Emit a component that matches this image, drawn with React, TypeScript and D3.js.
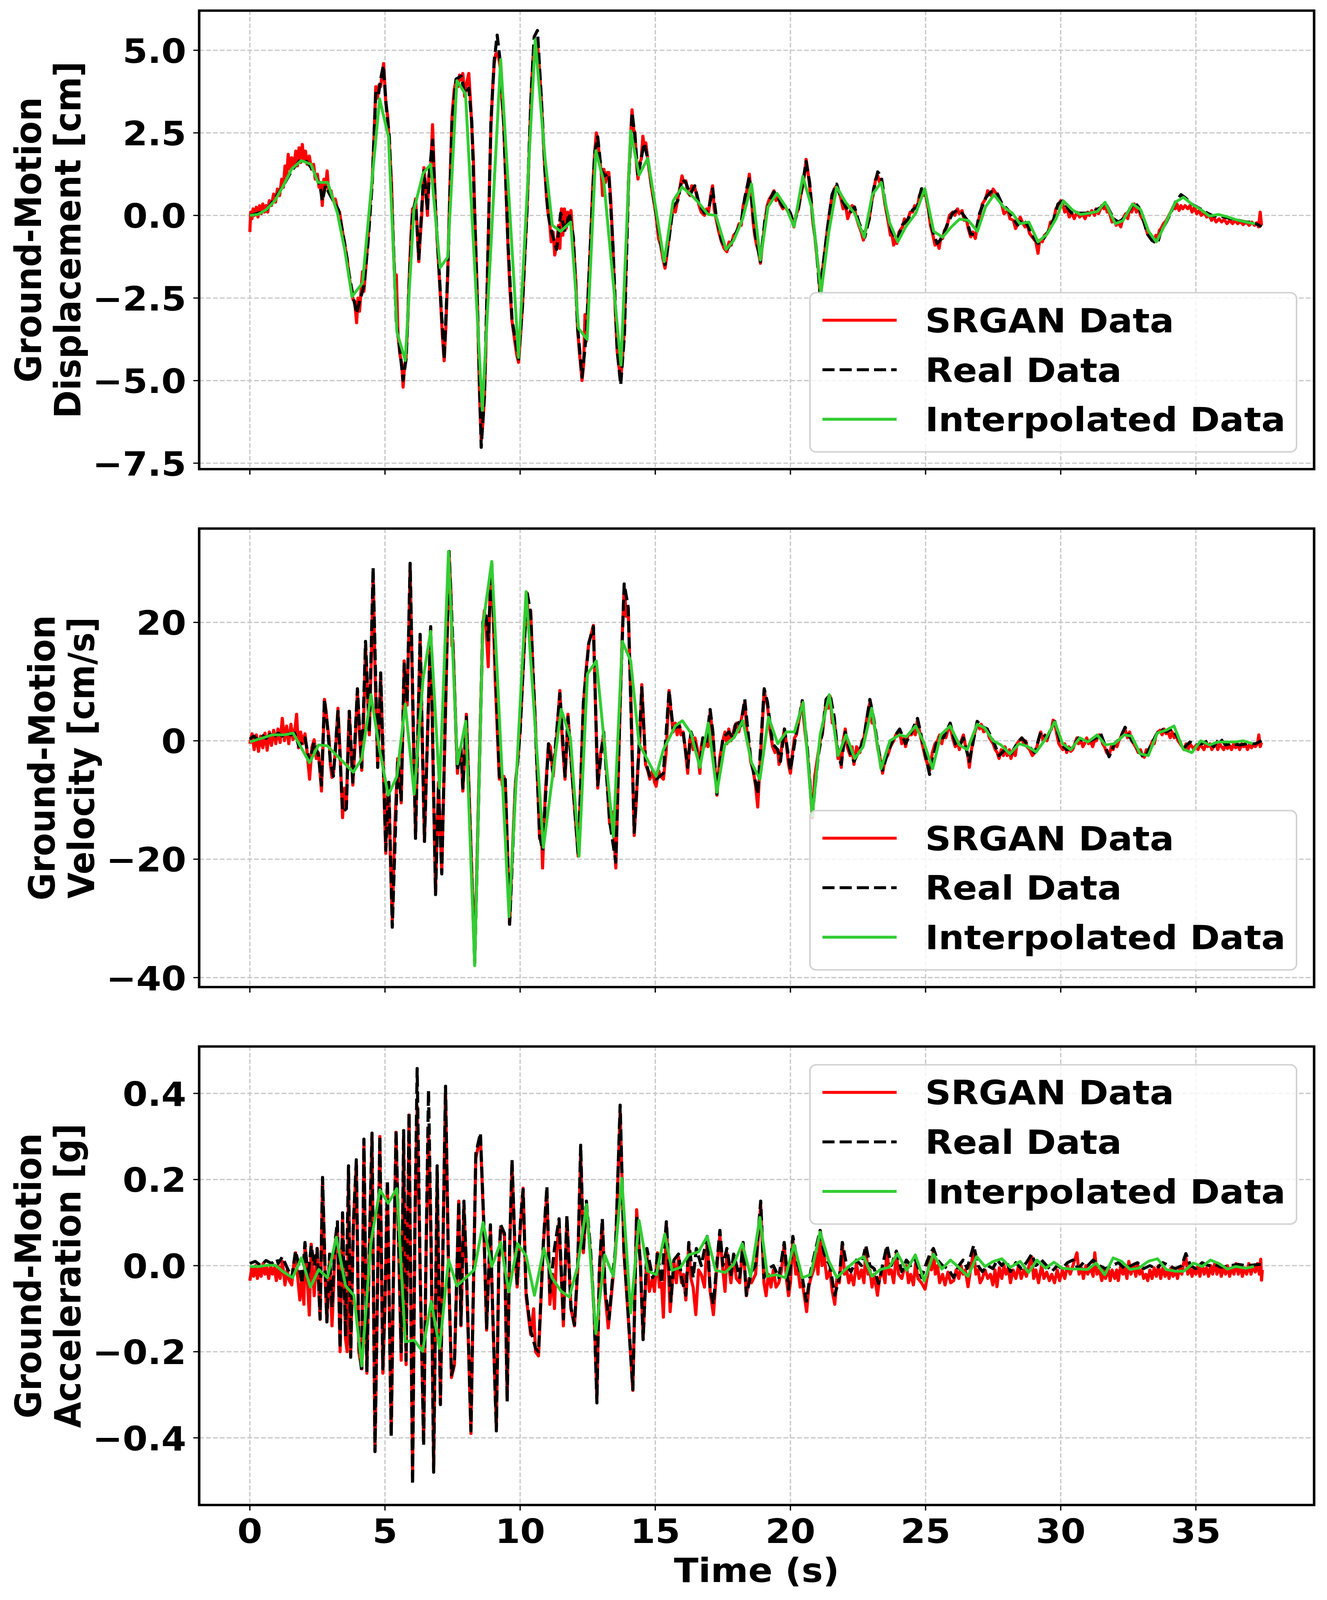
import React from 'react';
import * as d3 from 'd3';

type Pt = [number, number];

// ---- axis ticks ----
const timeTicks = [0, 5, 10, 15, 20, 25, 30, 35];
const dispTicks = [-7.5, -5, -2.5, 0, 2.5, 5];
const velTicks = [-40, -20, 0, 20];
const accTicks = [-0.4, -0.2, 0, 0.2, 0.4];

const legendLabels = ['SRGAN Data', 'Real Data', 'Interpolated Data'];

// ---- displacement [cm] ----
const dispReal: Pt[] = [[0,0],[0.3,0.07],[0.6,0.15],[0.92,0.5],[1.24,0.9],[1.55,1.36],[1.87,1.68],[2.1,1.64],[2.34,1.36],[2.49,1.09],[2.6,0.9],[2.68,0.44],[2.8,0.9],[2.96,0.63],[3.12,0.4],[3.28,0.17],[3.51,-0.85],[3.67,-1.77],[3.79,-2.32],[3.95,-2.97],[4.06,-2.6],[4.22,-2.14],[4.37,-0.85],[4.53,1.0],[4.66,3.76],[4.76,3.67],[4.84,4.13],[4.94,4.54],[5.03,3.48],[5.16,2.38],[5.31,-0.85],[5.42,-3.24],[5.55,-4.07],[5.67,-4.99],[5.78,-4.35],[5.91,-1.77],[6.02,0.07],[6.13,0.44],[6.25,-1.31],[6.33,-0.2],[6.44,1.36],[6.57,0.17],[6.65,1.36],[6.76,2.28],[6.88,0.07],[7.04,-2.23],[7.19,-4.35],[7.32,-1.77],[7.48,2.84],[7.63,4.13],[7.82,4.22],[7.95,3.67],[8.1,3.85],[8.21,2.84],[8.32,0.07],[8.45,-3.6],[8.56,-7.02],[8.68,-5.45],[8.79,-1.77],[8.92,2.84],[9.04,4.68],[9.15,5.46],[9.26,4.68],[9.39,2.84],[9.55,-0.85],[9.7,-3.15],[9.94,-4.35],[10.09,-2.69],[10.25,0.07],[10.41,3.76],[10.52,5.41],[10.64,5.6],[10.77,3.76],[10.92,1.36],[11.03,0.07],[11.19,-0.57],[11.35,-1.03],[11.5,0.07],[11.66,-0.5],[11.82,0.07],[11.97,-0.66],[12.13,-3.42],[12.29,-4.9],[12.45,-3.6],[12.6,-0.85],[12.76,1.92],[12.87,2.38],[13.0,1.36],[13.13,1.2],[13.28,1.27],[13.43,-0.85],[13.59,-4.07],[13.72,-5.13],[13.86,-3.6],[14.01,0.99],[14.14,3.11],[14.25,2.38],[14.36,1.18],[14.48,1.73],[14.59,2.19],[14.72,1.73],[14.87,0.9],[15.03,0.07],[15.2,-0.85],[15.36,-1.49],[15.5,-0.76],[15.66,0.26],[15.83,0.44],[15.99,1.09],[16.13,1.0],[16.29,0.63],[16.46,0.9],[16.62,0.35],[16.82,0.07],[16.97,0.15],[17.12,0.81],[17.25,0.0],[17.45,-0.76],[17.65,-1.03],[17.81,-0.85],[18.01,-0.48],[18.18,-0.2],[18.31,0.53],[18.48,1.18],[18.68,-0.48],[18.89,-1.4],[19.06,-0.11],[19.22,0.44],[19.39,0.72],[19.55,0.53],[19.72,0.26],[19.88,0.26],[20.0,0.07],[20.13,-0.29],[20.3,0.26],[20.46,1.0],[20.58,1.64],[20.71,1.0],[20.83,-0.11],[20.96,-1.03],[21.09,-2.32],[21.21,-1.49],[21.37,-0.39],[21.54,0.63],[21.71,0.95],[21.87,0.53],[22.04,0.26],[22.2,0.07],[22.37,0.26],[22.53,-0.2],[22.75,-0.66],[22.91,-0.11],[23.08,0.81],[23.23,1.32],[23.36,1.18],[23.53,0.26],[23.74,-0.48],[23.94,-0.76],[24.14,-0.29],[24.35,-0.11],[24.52,0.17],[24.69,0.26],[24.85,0.81],[24.97,0.81],[25.1,0.26],[25.26,-0.48],[25.43,-0.85],[25.63,-0.66],[25.79,-0.29],[26.0,0.07],[26.18,0.17],[26.35,0.07],[26.51,-0.11],[26.67,-0.57],[26.84,-0.57],[27.0,0.07],[27.22,0.53],[27.42,0.72],[27.62,0.72],[27.83,0.35],[28.05,0.17],[28.25,-0.11],[28.41,-0.29],[28.58,-0.11],[28.77,-0.29],[28.99,-0.66],[29.16,-0.85],[29.32,-0.76],[29.54,-0.48],[29.74,-0.11],[29.9,0.35],[30.07,0.44],[30.23,0.26],[30.4,0.07],[30.6,0.07],[30.81,0.07],[31.06,0.07],[31.31,0.17],[31.52,0.26],[31.64,0.4],[31.8,0.15],[31.97,-0.11],[32.14,-0.2],[32.3,-0.11],[32.55,0.17],[32.72,0.4],[32.88,0.26],[33.05,-0.11],[33.21,-0.57],[33.38,-0.76],[33.58,-0.85],[33.71,-0.48],[33.91,-0.2],[34.07,0.07],[34.24,0.4],[34.45,0.63],[34.62,0.53],[34.83,0.35],[35.03,0.26],[35.23,0.17],[35.43,0.07],[35.66,-0.02],[35.86,-0.02],[36.1,-0.06],[36.36,-0.11],[36.6,-0.15],[36.87,-0.2],[37.1,-0.2],[37.32,-0.29],[37.43,-0.34]];

const dispSrgan: Pt[] = [[0,-0.5],[0.03,0.1],[0.08,-0.1],[0.12,0.2],[0.18,0.0],[0.24,0.25],[0.3,-0.05],[0.36,0.3],[0.42,0.05],[0.48,0.35],[0.54,0.1],[0.6,0.3],[0.66,0.1],[0.72,0.45],[0.8,0.3],[0.88,0.65],[0.95,0.4],[1.02,0.8],[1.1,0.6],[1.18,1.1],[1.24,0.85],[1.3,1.5],[1.36,1.2],[1.42,1.85],[1.48,1.4],[1.55,1.75],[1.62,1.45],[1.7,1.95],[1.76,1.5],[1.82,2.05],[1.88,1.6],[1.94,2.15],[2.0,1.7],[2.06,1.95],[2.12,1.55],[2.2,1.8],[2.28,1.4],[2.36,1.55],[2.42,1.1],[2.5,1.25],[2.56,0.85],[2.62,1.0],[2.68,0.3],[2.74,1.1],[2.8,0.85],[2.86,1.35],[2.92,0.7],[3.0,0.75],[3.08,0.45],[3.16,0.5],[3.24,0.2],[3.32,0.1],[3.42,-0.45],[3.51,-0.9],[3.6,-1.3],[3.67,-1.85],[3.75,-2.2],[3.82,-2.55],[3.88,-2.6],[3.95,-3.25],[4.0,-2.5],[4.06,-2.9],[4.12,-2.2],[4.17,-1.7],[4.22,-2.3],[4.3,-1.5],[4.37,-0.7],[4.45,0.3],[4.53,1.1],[4.6,2.5],[4.66,3.9],[4.72,3.55],[4.78,3.95],[4.84,3.9],[4.9,4.3],[4.95,4.6],[5.03,3.4],[5.1,3.0],[5.16,2.2],[5.24,1.0],[5.31,-1.0],[5.38,-2.2],[5.42,-1.8],[5.48,-3.6],[5.55,-4.2],[5.62,-4.5],[5.67,-5.2],[5.72,-4.6],[5.78,-4.3],[5.85,-3.0],[5.91,-1.6],[5.96,-0.6],[6.02,0.2],[6.08,-0.1],[6.13,0.5],[6.18,-0.2],[6.25,-1.4],[6.3,-0.7],[6.36,0.0],[6.44,1.45],[6.5,0.9],[6.57,0.0],[6.62,1.2],[6.7,1.6],[6.76,2.75],[6.82,1.3],[6.88,0.0],[6.95,-1.0],[7.04,-2.3],[7.12,-3.6],[7.19,-4.4],[7.25,-3.4],[7.32,-1.8],[7.4,0.8],[7.48,3.0],[7.56,3.8],[7.63,4.1],[7.7,3.9],[7.76,4.25],[7.82,4.1],[7.88,4.3],[7.95,3.6],[8.02,4.0],[8.1,4.3],[8.16,3.5],[8.21,2.7],[8.27,1.7],[8.32,0.0],[8.4,-2.0],[8.45,-3.7],[8.5,-5.5],[8.56,-6.8],[8.62,-6.3],[8.68,-5.5],[8.74,-3.8],[8.79,-1.9],[8.86,0.7],[8.92,2.7],[8.98,3.8],[9.04,4.6],[9.1,4.9],[9.15,4.9],[9.2,4.8],[9.26,4.5],[9.32,3.6],[9.39,2.8],[9.47,1.0],[9.55,-0.9],[9.62,-2.2],[9.7,-3.2],[9.8,-3.8],[9.87,-4.2],[9.94,-4.45],[10.0,-3.8],[10.09,-2.7],[10.17,-1.2],[10.25,0.1],[10.33,1.8],[10.41,3.7],[10.47,4.7],[10.52,5.1],[10.58,4.9],[10.64,5.2],[10.7,4.6],[10.77,3.7],[10.85,2.4],[10.92,1.3],[10.98,0.5],[11.03,0.1],[11.1,-0.3],[11.15,-0.8],[11.22,-0.5],[11.28,-1.2],[11.35,-0.9],[11.42,-0.3],[11.47,-1.0],[11.53,0.2],[11.58,-0.6],[11.64,0.2],[11.7,-0.4],[11.76,0.1],[11.82,-0.2],[11.88,0.15],[11.94,-0.5],[12.0,-1.2],[12.06,-2.0],[12.13,-3.5],[12.2,-4.2],[12.29,-5.0],[12.35,-4.5],[12.4,-3.0],[12.45,-3.8],[12.52,-2.3],[12.6,-0.9],[12.68,0.8],[12.76,1.9],[12.82,2.5],[12.87,2.3],[12.93,1.8],[13.0,1.3],[13.05,0.6],[13.1,1.4],[13.16,1.0],[13.22,1.3],[13.28,1.3],[13.35,0.5],[13.43,-0.9],[13.5,-2.5],[13.59,-4.1],[13.66,-4.6],[13.72,-4.95],[13.78,-4.4],[13.86,-3.4],[13.93,-1.0],[14.01,1.0],[14.08,2.3],[14.14,3.2],[14.2,2.6],[14.25,2.5],[14.3,1.6],[14.36,1.1],[14.42,1.6],[14.48,1.7],[14.54,2.4],[14.59,2.1],[14.65,2.2],[14.72,1.7],[14.8,1.2],[14.87,0.8],[14.95,0.4],[15.03,0.0],[15.12,-0.7],[15.2,-0.9],[15.28,-1.3],[15.36,-1.6],[15.43,-1.2],[15.5,-0.7],[15.58,-0.2],[15.66,0.3],[15.74,0.1],[15.83,0.5],[15.9,0.8],[15.99,1.2],[16.05,1.0],[16.13,1.05],[16.2,0.7],[16.29,0.6],[16.35,0.9],[16.46,0.85],[16.53,0.6],[16.62,0.3],[16.7,0.1],[16.82,0.0],[16.9,0.2],[16.97,0.1],[17.05,0.6],[17.12,0.9],[17.18,0.2],[17.25,-0.1],[17.35,-0.5],[17.45,-0.8],[17.55,-1.0],[17.65,-1.1],[17.73,-0.8],[17.81,-0.9],[17.9,-0.6],[18.01,-0.5],[18.1,-0.25],[18.18,-0.3],[18.25,0.3],[18.31,0.45],[18.4,0.8],[18.48,1.25],[18.55,0.6],[18.62,-0.2],[18.68,-0.6],[18.75,-0.9],[18.82,-1.1],[18.89,-1.45],[18.96,-0.9],[19.06,-0.2],[19.14,0.3],[19.22,0.5],[19.3,0.6],[19.39,0.75],[19.47,0.45],[19.55,0.6],[19.62,0.35],[19.72,0.2],[19.8,0.3],[19.88,0.15],[20.0,0.0],[20.07,-0.2],[20.13,-0.35],[20.2,0.0],[20.3,0.2],[20.38,0.6],[20.46,0.9],[20.53,1.3],[20.58,1.7],[20.65,1.3],[20.71,0.9],[20.77,0.4],[20.83,-0.2],[20.9,-0.6],[20.96,-1.1],[21.03,-1.6],[21.09,-2.3],[21.15,-1.8],[21.21,-1.5],[21.3,-0.9],[21.37,-0.4],[21.45,0.1],[21.54,0.6],[21.62,0.8],[21.71,0.9],[21.8,0.7],[21.87,0.5],[21.95,0.2],[22.04,0.3],[22.12,-0.1],[22.2,0.1],[22.28,0.3],[22.37,0.2],[22.45,-0.1],[22.53,-0.3],[22.62,-0.5],[22.7,-0.75],[22.75,-0.55],[22.83,-0.3],[22.91,-0.15],[23.0,0.4],[23.08,0.7],[23.15,1.1],[23.23,1.2],[23.3,1.0],[23.36,1.1],[23.45,0.6],[23.53,0.2],[23.62,-0.2],[23.7,-0.6],[23.74,-0.5],[23.82,-0.9],[23.9,-0.7],[23.94,-0.85],[24.02,-0.5],[24.14,-0.35],[24.22,-0.1],[24.3,-0.3],[24.35,-0.1],[24.43,0.1],[24.52,0.1],[24.6,0.3],[24.69,0.2],[24.77,0.6],[24.85,0.75],[24.92,0.6],[24.97,0.8],[25.05,0.4],[25.1,0.2],[25.18,-0.3],[25.26,-0.55],[25.35,-0.9],[25.43,-0.8],[25.5,-1.0],[25.56,-0.7],[25.63,-0.7],[25.7,-0.45],[25.79,-0.35],[25.88,0.0],[26.0,0.1],[26.08,0.0],[26.18,0.2],[26.25,0.05],[26.35,0.15],[26.43,-0.15],[26.51,-0.1],[26.58,-0.4],[26.67,-0.65],[26.75,-0.5],[26.84,-0.7],[26.92,-0.3],[27.0,0.0],[27.1,0.35],[27.22,0.5],[27.3,0.75],[27.42,0.6],[27.5,0.8],[27.62,0.65],[27.7,0.5],[27.83,0.3],[27.9,0.05],[28.05,0.15],[28.12,-0.1],[28.25,-0.15],[28.33,-0.4],[28.41,-0.25],[28.5,-0.05],[28.58,-0.2],[28.68,-0.35],[28.77,-0.3],[28.85,-0.55],[28.99,-0.7],[29.08,-0.8],[29.16,-1.15],[29.22,-0.75],[29.32,-0.8],[29.4,-0.6],[29.54,-0.5],[29.62,-0.2],[29.74,-0.15],[29.82,0.2],[29.9,0.3],[30.0,0.45],[30.07,0.35],[30.15,0.1],[30.23,0.2],[30.32,-0.05],[30.4,0.1],[30.5,-0.1],[30.6,0.1],[30.7,-0.05],[30.81,0.05],[30.9,-0.1],[31.0,0.1],[31.06,0.0],[31.15,0.15],[31.25,0.0],[31.31,0.2],[31.4,0.05],[31.52,0.3],[31.6,0.2],[31.64,0.35],[31.72,0.1],[31.8,0.1],[31.9,-0.2],[31.97,-0.1],[32.05,-0.3],[32.14,-0.2],[32.22,-0.35],[32.3,-0.1],[32.4,0.05],[32.48,-0.1],[32.55,0.2],[32.63,0.1],[32.72,0.35],[32.8,0.1],[32.88,0.25],[32.95,0.0],[33.05,-0.15],[33.12,-0.3],[33.21,-0.55],[33.3,-0.6],[33.38,-0.7],[33.46,-0.8],[33.52,-0.6],[33.58,-0.75],[33.65,-0.45],[33.71,-0.4],[33.8,-0.25],[33.91,-0.15],[34.0,0.0],[34.07,0.1],[34.15,0.25],[34.24,0.2],[34.3,0.35],[34.38,0.15],[34.45,0.3],[34.52,0.2],[34.6,0.3],[34.7,0.2],[34.78,0.3],[34.86,0.1],[34.95,0.25],[35.03,0.05],[35.12,0.15],[35.2,0.0],[35.3,0.1],[35.4,-0.05],[35.5,0.0],[35.58,-0.15],[35.66,-0.05],[35.75,-0.2],[35.86,-0.1],[35.95,-0.2],[36.05,-0.12],[36.15,-0.25],[36.25,-0.15],[36.36,-0.25],[36.45,-0.15],[36.55,-0.25],[36.65,-0.18],[36.75,-0.28],[36.87,-0.2],[36.97,-0.3],[37.07,-0.2],[37.17,-0.3],[37.25,-0.22],[37.32,-0.35],[37.38,0.1],[37.43,-0.3]];

const dispInterp: Pt[] = [[0,0],[0.3,0.03],[0.6,0.17],[0.92,0.44],[1.24,0.9],[1.55,1.41],[1.9,1.66],[2.26,1.55],[2.52,1.0],[2.88,1.0],[3.24,0.07],[3.51,-1.03],[3.78,-2.46],[4.17,-2.04],[4.8,3.53],[5.13,2.38],[5.44,-3.52],[5.75,-4.39],[6.07,0.17],[6.41,1.27],[6.69,1.55],[7.04,-1.58],[7.32,-1.26],[7.66,4.08],[7.98,3.67],[8.6,-5.9],[9.28,4.72],[9.94,-4.3],[10.56,5.32],[10.92,1.73],[11.19,-0.3],[11.5,-0.48],[11.87,-0.2],[12.16,-3.42],[12.48,-3.75],[12.8,1.96],[13.1,1.0],[13.73,-4.53],[14.09,2.56],[14.4,1.22],[14.72,1.73],[15.0,0.3],[15.33,-1.4],[15.66,0.44],[15.99,0.86],[16.32,0.63],[16.62,0.37],[16.95,0.03],[17.24,0.0],[17.62,-1.03],[17.9,-0.76],[18.23,-0.11],[18.56,0.95],[18.89,-1.35],[19.17,0.26],[19.5,0.67],[19.83,0.26],[20.13,-0.34],[20.46,1.18],[20.8,0.2],[21.13,-2.37],[21.42,-0.5],[21.71,0.86],[22.04,0.4],[22.37,0.07],[22.73,-0.66],[23.03,0.63],[23.36,1.0],[23.66,-0.2],[23.97,-0.8],[24.27,-0.34],[24.64,0.07],[24.97,0.81],[25.3,-0.48],[25.63,-0.66],[25.95,-0.35],[26.26,-0.11],[26.58,-0.15],[26.92,-0.48],[27.22,0.26],[27.53,0.63],[27.88,0.26],[28.21,0.07],[28.49,-0.25],[28.82,-0.2],[29.16,-0.8],[29.49,-0.57],[29.82,-0.11],[30.1,0.44],[30.43,0.17],[30.73,0.03],[31.06,0.07],[31.36,0.12],[31.64,0.4],[32.02,-0.25],[32.3,-0.16],[32.66,0.35],[32.96,0.17],[33.25,-0.48],[33.54,-0.8],[33.9,-0.2],[34.24,0.4],[34.54,0.55],[34.87,0.33],[35.2,0.17],[35.5,-0.02],[35.83,0.03],[36.16,-0.04],[36.49,-0.13],[36.85,-0.2],[37.19,-0.25]];

// ---- velocity [cm/s] ----
const velReal: Pt[] = [[0,0.3],[0.15,0.8],[0.3,0.2],[0.45,1.0],[0.6,0.4],[0.75,1.1],[0.9,0.6],[1.05,1.3],[1.2,0.8],[1.35,1.4],[1.5,1.0],[1.66,1.3],[1.82,-1.0],[2.04,0.5],[2.2,-3.5],[2.38,-0.2],[2.54,-2.5],[2.65,-7.5],[2.76,7.0],[2.87,2.5],[2.98,-3.5],[3.09,-6.0],[3.26,5.0],[3.43,-12.0],[3.57,-11.5],[3.68,5.0],[3.81,-7.0],[3.98,8.8],[4.14,-4.5],[4.28,16.8],[4.42,1.5],[4.56,29.3],[4.73,-4.5],[4.84,11.5],[5.03,-18.5],[5.14,-7.0],[5.27,-31.5],[5.47,-3.5],[5.6,-10.0],[5.71,13.0],[5.82,6.5],[5.93,30.0],[6.13,-16.5],[6.3,18.0],[6.46,-17.0],[6.69,19.3],[6.87,-26.0],[6.98,-7.5],[7.1,-22.5],[7.37,32.0],[7.51,16.5],[7.68,-5.0],[7.81,-1.5],[7.88,-8.0],[8.01,4.0],[8.32,-37.5],[8.62,20.0],[8.73,21.5],[8.82,17.0],[8.95,30.0],[9.23,-6.0],[9.34,-7.0],[9.45,-6.5],[9.61,-31.0],[9.83,-7.5],[10.0,1.5],[10.25,25.3],[10.39,21.5],[10.55,4.0],[10.72,-16.0],[10.83,-18.5],[11.05,-0.5],[11.22,-5.5],[11.47,8.0],[11.66,-6.0],[11.77,4.0],[11.93,-6.0],[12.15,-19.5],[12.34,6.5],[12.54,16.5],[12.71,19.3],[12.87,-7.5],[13.09,1.5],[13.31,-13.5],[13.54,-20.5],[13.7,6.5],[13.85,26.5],[14.0,22.5],[14.22,-15.5],[14.36,-4.5],[14.5,9.0],[14.64,-3.5],[14.8,-6.0],[15.03,-6.5],[15.3,-5.5],[15.51,8.5],[15.66,2.0],[15.88,2.5],[16.03,1.5],[16.2,-4.5],[16.32,1.5],[16.47,-0.5],[16.65,-4.5],[16.76,0.5],[16.88,-0.5],[17.03,5.3],[17.13,1.5],[17.28,-9.0],[17.5,0.5],[17.72,1.5],[17.87,0.5],[18.01,3.5],[18.16,2.5],[18.31,7.0],[18.53,-3.0],[18.71,-7.0],[18.79,-9.0],[19.03,8.8],[19.15,6.5],[19.34,-0.5],[19.53,-1.5],[19.63,-3.5],[19.78,2.0],[20.0,-5.0],[20.22,1.5],[20.44,6.8],[20.62,-1.0],[20.81,-12.5],[21.03,-2.5],[21.18,1.5],[21.32,7.0],[21.47,7.8],[21.62,4.0],[21.76,-2.5],[21.88,-4.0],[22.03,1.5],[22.21,-2.0],[22.35,-3.5],[22.57,-1.5],[22.72,0.5],[22.94,7.0],[23.09,3.5],[23.24,-1.0],[23.41,-5.0],[23.6,-2.0],[23.82,0.5],[24.04,2.0],[24.26,-0.5],[24.48,1.5],[24.7,3.8],[25.0,-2.5],[25.15,-5.7],[25.44,0.5],[25.66,0.5],[25.91,3.0],[26.1,-0.5],[26.25,-1.0],[26.4,0.5],[26.62,-3.5],[26.91,3.3],[27.06,2.5],[27.28,2.0],[27.5,0.0],[27.72,-2.5],[27.94,-1.5],[28.16,-2.2],[28.38,-0.5],[28.56,0.5],[28.75,-0.5],[29.04,-2.0],[29.26,1.5],[29.49,0.5],[29.78,3.3],[30.0,-0.5],[30.22,-1.5],[30.44,-1.2],[30.66,0.5],[30.88,-0.2],[31.1,0.0],[31.32,0.5],[31.47,1.3],[31.62,-0.5],[31.79,-2.7],[31.99,-0.5],[32.21,0.5],[32.38,2.3],[32.57,0.5],[32.79,-1.0],[33.09,-3.0],[33.31,-1.0],[33.53,1.0],[33.68,2.1],[33.9,1.5],[34.12,2.0],[34.34,0.5],[34.56,-1.2],[34.78,-0.2],[35.0,-0.7],[35.22,-0.5],[35.44,0.0],[35.66,-1.0],[35.88,0.5],[36.1,-0.7],[36.32,-0.5],[36.62,-0.7],[36.91,-0.5],[37.2,-0.5],[37.43,0.0]];

const velSrgan: Pt[] = [[0,-0.5],[0.08,1.2],[0.16,-1.5],[0.24,1.0],[0.32,-1.8],[0.4,0.8],[0.48,-1.2],[0.56,1.3],[0.64,-1.6],[0.72,1.5],[0.8,-0.8],[0.88,1.8],[0.96,-0.5],[1.04,2.0],[1.12,-0.3],[1.2,3.8],[1.28,0.0],[1.36,2.5],[1.44,-0.5],[1.52,2.8],[1.6,0.2],[1.68,2.4],[1.73,4.5],[1.8,-1.2],[1.88,1.5],[1.96,-0.5],[2.04,1.2],[2.12,-2.0],[2.21,-6.5],[2.3,-1.0],[2.38,0.2],[2.46,-3.0],[2.54,-2.0],[2.65,-8.5],[2.72,1.0],[2.76,7.0],[2.82,5.0],[2.87,2.5],[2.93,0.5],[2.98,-4.0],[3.04,-6.2],[3.09,-5.5],[3.18,-1.0],[3.26,5.5],[3.34,-2.0],[3.43,-13.0],[3.5,-8.0],[3.57,-11.0],[3.63,-1.0],[3.68,5.0],[3.75,-2.0],[3.81,-7.5],[3.9,0.0],[3.98,8.5],[4.06,1.0],[4.14,-5.0],[4.22,5.0],[4.28,16.0],[4.35,8.0],[4.42,1.0],[4.5,15.0],[4.56,28.5],[4.64,10.0],[4.73,-4.0],[4.78,3.0],[4.84,11.0],[4.94,-5.0],[5.03,-19.0],[5.08,-10.0],[5.14,-7.5],[5.2,-20.0],[5.27,-30.5],[5.36,-15.0],[5.47,-3.0],[5.54,-6.0],[5.6,-10.5],[5.66,2.0],[5.71,13.5],[5.77,8.0],[5.82,6.0],[5.88,18.0],[5.93,29.5],[6.03,5.0],[6.13,-16.0],[6.22,2.0],[6.3,17.5],[6.38,0.0],[6.46,-17.0],[6.58,2.0],[6.69,19.0],[6.78,-5.0],[6.87,-25.5],[6.93,-15.0],[6.98,-7.0],[7.04,-15.0],[7.1,-22.0],[7.24,5.0],[7.37,31.5],[7.44,25.0],[7.48,16.0],[7.51,17.0],[7.6,5.0],[7.68,-5.5],[7.74,-2.0],[7.81,-1.0],[7.88,-8.5],[7.95,-2.0],[8.01,4.5],[8.16,-15.0],[8.32,-37.0],[8.47,-8.0],[8.62,19.5],[8.68,22.0],[8.73,20.0],[8.82,12.5],[8.88,24.0],[8.95,29.5],[9.08,10.0],[9.23,-6.5],[9.29,-5.0],[9.34,-7.5],[9.4,-6.0],[9.45,-7.0],[9.53,-18.0],[9.61,-31.0],[9.72,-18.0],[9.83,-7.0],[9.92,-3.0],[10.0,2.0],[10.13,14.0],[10.25,25.0],[10.32,19.0],[10.39,22.0],[10.47,12.0],[10.55,4.5],[10.64,-6.0],[10.72,-16.5],[10.78,-14.0],[10.83,-21.5],[10.93,-9.0],[11.05,-0.5],[11.12,-1.0],[11.22,-6.0],[11.34,0.0],[11.47,8.5],[11.56,0.0],[11.66,-6.5],[11.72,-1.0],[11.77,4.5],[11.85,-1.0],[11.93,-6.5],[12.04,-13.0],[12.15,-19.5],[12.25,-6.0],[12.34,6.0],[12.44,12.0],[12.54,16.5],[12.63,18.0],[12.71,19.5],[12.8,4.0],[12.87,-8.0],[12.98,-2.0],[13.09,1.0],[13.2,-5.0],[13.31,-14.0],[13.42,-12.0],[13.54,-21.5],[13.62,-8.0],[13.7,6.0],[13.78,18.0],[13.85,26.0],[13.93,21.0],[14.0,22.0],[14.11,5.0],[14.22,-16.0],[14.3,-10.0],[14.36,-4.0],[14.43,0.0],[14.5,9.5],[14.57,3.0],[14.64,-4.0],[14.72,-5.0],[14.8,-6.5],[14.9,-5.0],[14.97,-7.0],[15.03,-7.7],[15.12,-5.0],[15.2,-6.0],[15.3,-6.5],[15.4,-2.0],[15.51,8.5],[15.58,5.0],[15.66,1.5],[15.74,3.0],[15.81,1.0],[15.88,3.0],[15.95,1.0],[16.03,1.5],[16.1,-1.0],[16.2,-5.5],[16.27,0.0],[16.32,1.0],[16.4,-1.5],[16.47,0.5],[16.56,-1.5],[16.65,-5.5],[16.7,-1.0],[16.76,0.5],[16.82,-1.0],[16.88,0.5],[16.95,-1.0],[17.03,5.0],[17.1,2.0],[17.13,1.0],[17.2,-4.0],[17.28,-9.2],[17.38,-3.0],[17.5,0.0],[17.58,1.5],[17.65,-0.5],[17.72,2.0],[17.8,0.0],[17.87,1.0],[17.94,2.5],[18.01,3.0],[18.09,1.5],[18.16,3.0],[18.24,5.0],[18.31,6.5],[18.4,1.0],[18.48,-1.5],[18.53,-3.5],[18.62,-5.0],[18.71,-7.5],[18.79,-11.2],[18.9,-2.0],[19.03,8.5],[19.09,7.0],[19.15,6.0],[19.24,2.0],[19.34,-1.0],[19.43,-2.0],[19.53,-1.5],[19.58,-4.0],[19.63,-3.0],[19.7,0.0],[19.78,2.0],[19.86,-1.0],[19.93,-4.0],[20.0,-5.5],[20.08,-2.0],[20.15,0.5],[20.22,1.0],[20.3,3.0],[20.37,5.0],[20.44,6.5],[20.53,2.0],[20.62,-1.5],[20.7,-6.0],[20.81,-13.0],[20.9,-6.0],[21.03,-2.0],[21.1,0.0],[21.18,1.0],[21.25,4.0],[21.32,6.5],[21.4,5.5],[21.47,7.5],[21.55,3.0],[21.62,3.5],[21.7,0.0],[21.76,-3.0],[21.82,-1.5],[21.88,-4.5],[21.95,0.0],[22.03,2.0],[22.1,-1.0],[22.21,-2.5],[22.28,-1.0],[22.35,-4.0],[22.45,-1.0],[22.57,-2.0],[22.65,0.0],[22.72,0.5],[22.8,3.0],[22.87,5.0],[22.94,6.5],[23.02,3.0],[23.09,3.0],[23.16,1.0],[23.24,-1.5],[23.32,-3.0],[23.41,-5.5],[23.5,-3.0],[23.6,-2.5],[23.7,-1.0],[23.82,0.0],[23.9,1.0],[24.04,1.5],[24.12,-0.5],[24.2,0.5],[24.26,-1.0],[24.35,1.0],[24.48,1.0],[24.55,2.0],[24.62,1.0],[24.7,3.5],[24.8,1.0],[24.9,-1.0],[25.0,-3.0],[25.08,-4.0],[25.15,-5.0],[25.25,-2.0],[25.35,-0.5],[25.44,0.0],[25.52,1.0],[25.6,-0.5],[25.66,1.0],[25.75,0.5],[25.84,2.0],[25.91,2.5],[26.0,0.5],[26.1,-1.0],[26.18,0.0],[26.25,-1.5],[26.32,0.0],[26.4,1.0],[26.48,-1.0],[26.55,-2.0],[26.62,-4.5],[26.7,-1.5],[26.8,1.0],[26.91,3.0],[27.0,2.0],[27.06,2.8],[27.15,1.5],[27.28,2.0],[27.36,0.5],[27.5,-0.5],[27.58,-1.5],[27.65,-2.0],[27.72,-3.0],[27.8,-1.5],[27.88,-2.5],[27.94,-1.0],[28.02,-2.5],[28.1,-1.5],[28.16,-3.0],[28.25,-1.5],[28.32,-2.5],[28.38,-0.5],[28.46,0.0],[28.56,0.5],[28.63,-0.5],[28.7,0.0],[28.75,-1.0],[28.85,-1.5],[28.95,-2.5],[29.04,-2.0],[29.12,-1.0],[29.2,0.5],[29.26,1.5],[29.35,0.0],[29.42,1.0],[29.49,0.0],[29.58,1.5],[29.66,2.0],[29.72,3.5],[29.78,3.0],[29.86,1.0],[29.93,-0.5],[30.0,-1.0],[30.08,-1.5],[30.15,-0.5],[30.22,-2.0],[30.3,-1.0],[30.37,-1.8],[30.44,-1.5],[30.52,-0.5],[30.6,0.5],[30.66,-0.5],[30.75,0.0],[30.82,-1.0],[30.88,-0.5],[30.96,0.5],[31.03,-0.5],[31.1,0.0],[31.18,-1.0],[31.25,0.0],[31.32,0.0],[31.4,1.0],[31.47,1.0],[31.55,-0.5],[31.62,-1.0],[31.7,-2.0],[31.79,-2.5],[31.87,-1.0],[31.94,-1.5],[31.99,-0.5],[32.08,-1.0],[32.15,0.0],[32.21,0.5],[32.3,1.5],[32.38,2.0],[32.47,0.5],[32.55,1.5],[32.62,0.0],[32.7,-0.5],[32.79,-1.2],[32.87,-2.0],[32.95,-1.5],[33.02,-2.5],[33.09,-2.8],[33.17,-1.5],[33.24,-2.0],[33.31,-1.0],[33.4,0.0],[33.46,-0.5],[33.53,1.0],[33.6,1.5],[33.68,1.8],[33.75,1.0],[33.82,2.0],[33.9,1.2],[33.97,1.5],[34.05,0.5],[34.12,1.5],[34.2,0.5],[34.27,1.0],[34.34,0.0],[34.42,-0.5],[34.49,-1.0],[34.56,-1.5],[34.64,-0.5],[34.71,-1.5],[34.78,-0.5],[34.86,-1.0],[34.93,-1.5],[35.0,-0.8],[35.08,-1.5],[35.15,-0.5],[35.22,-1.0],[35.3,-1.5],[35.37,-0.5],[35.44,-1.0],[35.52,-0.5],[35.59,-1.5],[35.66,-1.0],[35.74,-0.5],[35.81,-1.5],[35.88,-0.5],[35.95,-1.0],[36.03,-1.5],[36.1,-0.5],[36.17,-1.3],[36.25,-0.8],[36.32,-1.5],[36.4,-0.5],[36.47,-1.2],[36.55,-0.6],[36.62,-1.5],[36.7,-0.5],[36.77,-1.0],[36.84,-0.6],[36.91,-1.5],[36.99,-0.5],[37.06,-1.2],[37.13,-0.6],[37.2,-1.0],[37.28,-0.5],[37.33,1.0],[37.38,-1.0],[37.43,-0.3]];

const velInterp: Pt[] = [[0,-0.2],[0.83,1.0],[1.27,1.0],[1.6,1.3],[2.21,-3.7],[2.54,-0.7],[2.87,-0.85],[3.26,-2.7],[3.83,-5.3],[4.14,-3.0],[4.48,7.8],[4.8,-1.5],[5.12,-9.2],[5.44,-6.0],[5.75,6.2],[6.08,-9.0],[6.41,10.5],[6.69,18.5],[7.02,-8.0],[7.35,32.0],[7.68,-3.9],[7.99,3.3],[8.32,-38.0],[8.62,19.5],[8.95,30.3],[9.59,-29.7],[10.22,25.2],[10.86,-18.0],[11.52,5.3],[11.86,0.5],[12.18,-19.5],[12.49,11.3],[12.82,13.5],[13.45,-16.2],[13.78,16.8],[14.09,13.5],[14.4,-0.5],[15.03,-6.0],[15.3,-1.5],[15.74,2.5],[16.0,3.4],[16.32,1.3],[16.65,-4.5],[16.96,3.0],[17.28,-8.7],[17.57,-0.7],[17.91,0.5],[18.24,3.4],[18.56,-3.7],[18.87,-6.5],[19.19,4.0],[19.53,-0.5],[19.85,1.5],[20.15,1.5],[20.47,6.5],[20.81,-12.7],[21.1,1.0],[21.44,7.8],[21.76,-2.5],[22.06,1.0],[22.38,-3.0],[22.69,-1.0],[23.01,5.5],[23.35,-4.7],[23.68,0.0],[24.04,1.0],[24.29,0.7],[24.63,2.5],[24.93,-0.2],[25.26,-4.7],[25.56,1.0],[25.91,2.5],[26.25,-0.7],[26.54,-1.5],[26.91,2.8],[27.18,2.2],[27.5,0.0],[27.79,-0.7],[28.12,-2.2],[28.46,-0.5],[28.75,-0.9],[29.09,-1.9],[29.44,0.3],[29.78,3.2],[30.07,-0.5],[30.37,-1.5],[30.71,0.5],[31.0,-0.2],[31.35,1.0],[31.65,-0.7],[31.99,-0.5],[32.35,1.0],[32.62,0.8],[32.94,-2.2],[33.24,-2.5],[33.57,1.3],[33.9,1.8],[34.19,2.5],[34.53,-1.4],[34.85,-2.0],[35.18,0.0],[35.51,-0.7],[35.81,-0.2],[36.15,-0.2],[36.45,-0.2],[36.75,0.0],[37.1,-0.5]];

// ---- acceleration [g] ----
const accReal: Pt[] = [[0,0.005],[0.2,0.01],[0.4,0.0],[0.6,0.012],[0.8,0.005],[1.0,0.015],[1.05,0.005],[1.2,0.02],[1.38,-0.005],[1.55,-0.028],[1.69,0.034],[1.82,0.0],[1.93,-0.042],[2.04,0.054],[2.15,-0.03],[2.27,0.047],[2.38,0.0],[2.49,0.04],[2.6,-0.124],[2.69,0.205],[2.78,0.0],[2.85,-0.131],[2.95,0.027],[3.04,-0.097],[3.15,0.054],[3.24,0.102],[3.34,-0.192],[3.43,0.123],[3.54,-0.165],[3.65,0.232],[3.73,-0.213],[3.83,0.095],[3.94,0.246],[4.03,-0.179],[4.14,-0.247],[4.22,0.294],[4.33,-0.247],[4.42,0.04],[4.52,0.308],[4.63,-0.432],[4.72,-0.06],[4.81,0.3],[4.92,-0.24],[5.0,-0.08],[5.09,0.198],[5.23,-0.398],[5.31,-0.027],[5.41,0.314],[5.52,0.013],[5.6,-0.2],[5.69,0.314],[5.78,-0.22],[5.89,0.355],[6.02,-0.508],[6.11,0.11],[6.19,0.458],[6.3,-0.007],[6.43,-0.418],[6.52,0.04],[6.61,0.407],[6.71,0.04],[6.8,-0.48],[6.93,0.232],[7.05,-0.323],[7.24,0.417],[7.35,0.0],[7.46,-0.254],[7.57,-0.226],[7.73,0.15],[7.81,-0.137],[7.92,0.15],[8.01,0.0],[8.18,-0.384],[8.25,-0.124],[8.36,0.26],[8.53,0.308],[8.65,0.109],[8.76,-0.145],[8.9,0.095],[8.98,-0.096],[9.12,-0.384],[9.21,0.007],[9.28,0.095],[9.42,0.075],[9.52,-0.316],[9.61,0.04],[9.7,0.246],[9.81,0.04],[9.89,-0.042],[10.02,0.11],[10.11,0.177],[10.22,-0.062],[10.39,-0.151],[10.57,-0.192],[10.68,-0.2],[10.86,0.054],[10.99,0.184],[11.1,-0.062],[11.27,0.04],[11.44,0.109],[11.6,-0.124],[11.73,0.116],[11.88,-0.097],[12.01,-0.138],[12.13,0.0],[12.24,0.28],[12.34,0.04],[12.45,0.15],[12.6,0.04],[12.74,-0.11],[12.84,-0.319],[12.93,-0.007],[13.04,0.109],[13.15,-0.062],[13.29,-0.124],[13.42,-0.028],[13.53,0.04],[13.7,0.373],[13.84,0.04],[13.98,-0.097],[14.17,-0.288],[14.31,0.116],[14.45,0.007],[14.55,-0.172],[14.69,0.04],[14.9,-0.028],[15.03,-0.014],[15.08,0.034],[15.23,-0.041],[15.41,0.102],[15.58,-0.083],[15.69,0.013],[15.86,0.027],[15.97,-0.028],[16.13,-0.069],[16.24,0.054],[16.4,-0.028],[16.52,0.04],[16.7,0.0],[16.92,0.068],[17.03,-0.055],[17.15,-0.09],[17.27,0.0],[17.39,0.082],[17.5,0.0],[17.65,0.04],[17.8,-0.021],[17.9,0.027],[18.12,-0.028],[18.25,0.054],[18.37,-0.069],[18.56,-0.014],[18.71,0.0],[18.9,0.15],[19.02,-0.028],[19.18,-0.007],[19.37,0.0],[19.57,-0.028],[19.77,0.054],[19.93,-0.055],[20.09,0.068],[20.28,0.0],[20.44,-0.028],[20.59,-0.083],[20.75,-0.014],[20.94,0.04],[21.1,0.082],[21.25,0.027],[21.46,0.0],[21.64,-0.069],[21.81,-0.028],[21.92,0.054],[22.08,0.0],[22.24,-0.014],[22.44,0.013],[22.63,0.0],[22.79,0.047],[22.94,0.0],[23.1,-0.007],[23.26,-0.042],[23.41,0.0],[23.57,0.047],[23.73,0.0],[23.92,0.034],[24.12,-0.014],[24.29,0.013],[24.45,0.0],[24.63,0.013],[24.85,-0.028],[25.0,0.0],[25.16,0.027],[25.29,0.04],[25.44,0.013],[25.63,0.0],[25.83,-0.007],[26.04,-0.028],[26.23,0.0],[26.39,0.013],[26.54,-0.007],[26.78,0.047],[26.94,0.0],[27.1,-0.014],[27.3,0.0],[27.49,-0.007],[27.65,0.013],[27.82,0.0],[27.98,0.013],[28.14,-0.014],[28.34,0.007],[28.54,-0.007],[28.73,0.007],[28.93,0.027],[29.08,0.0],[29.29,0.013],[29.48,0.0],[29.67,-0.014],[29.87,0.0],[30.06,-0.007],[30.25,0.007],[30.45,0.013],[30.64,-0.007],[30.84,0.007],[31.0,0.0],[31.2,0.013],[31.43,0.0],[31.66,-0.007],[31.9,0.0],[32.13,0.007],[32.37,-0.007],[32.6,0.0],[32.84,0.007],[33.07,-0.007],[33.3,0.0],[33.54,-0.007],[33.78,0.007],[34.01,0.0],[34.24,-0.007],[34.48,0.0],[34.63,0.028],[34.8,0.0],[35.0,-0.007],[35.23,0.007],[35.47,0.0],[35.7,0.003],[35.94,-0.004],[36.25,0.0],[36.57,0.003],[36.88,0.0],[37.2,0.002],[37.46,0.003]];

const accSrgan: Pt[] = [[0,-0.035],[0.07,-0.005],[0.14,-0.025],[0.21,0.0],[0.28,-0.03],[0.35,-0.005],[0.42,-0.025],[0.49,0.005],[0.56,-0.02],[0.63,-0.005],[0.7,-0.03],[0.77,0.0],[0.84,-0.02],[0.91,-0.005],[0.98,-0.035],[1.05,0.0],[1.12,-0.03],[1.2,0.01],[1.3,-0.045],[1.38,-0.01],[1.46,-0.035],[1.55,-0.045],[1.62,0.0],[1.69,0.03],[1.76,-0.02],[1.85,-0.08],[1.93,-0.03],[2.0,-0.09],[2.04,0.05],[2.1,-0.01],[2.15,-0.06],[2.2,-0.115],[2.27,0.05],[2.33,-0.02],[2.38,-0.07],[2.49,0.04],[2.6,-0.125],[2.69,0.2],[2.78,-0.02],[2.85,-0.13],[2.95,0.02],[3.04,-0.14],[3.1,-0.05],[3.15,0.05],[3.24,0.09],[3.34,-0.2],[3.43,0.12],[3.54,-0.17],[3.6,-0.2],[3.65,0.22],[3.73,-0.21],[3.83,0.09],[3.94,0.24],[4.03,-0.2],[4.14,-0.24],[4.22,0.29],[4.33,-0.25],[4.42,0.03],[4.52,0.3],[4.63,-0.43],[4.72,-0.07],[4.81,0.3],[4.92,-0.25],[5.0,-0.1],[5.09,0.19],[5.23,-0.39],[5.31,-0.04],[5.41,0.31],[5.52,0.0],[5.6,-0.22],[5.69,0.3],[5.78,-0.23],[5.89,0.35],[6.02,-0.49],[6.11,0.1],[6.19,0.37],[6.3,-0.02],[6.43,-0.41],[6.52,0.03],[6.61,0.32],[6.71,0.03],[6.8,-0.47],[6.93,0.22],[7.05,-0.32],[7.24,0.41],[7.35,-0.01],[7.46,-0.26],[7.57,-0.23],[7.73,0.15],[7.81,-0.14],[7.92,0.14],[8.01,-0.01],[8.18,-0.39],[8.25,-0.13],[8.36,0.25],[8.53,0.3],[8.65,0.1],[8.76,-0.15],[8.9,0.09],[8.98,-0.1],[9.12,-0.38],[9.21,0.0],[9.28,0.09],[9.42,0.07],[9.52,-0.31],[9.61,0.03],[9.7,0.24],[9.81,0.03],[9.89,-0.05],[10.02,0.1],[10.11,0.18],[10.22,-0.07],[10.39,-0.16],[10.5,-0.1],[10.57,-0.2],[10.68,-0.21],[10.77,-0.08],[10.86,0.05],[10.99,0.17],[11.1,-0.09],[11.2,-0.02],[11.27,-0.1],[11.35,0.03],[11.44,0.1],[11.6,-0.14],[11.73,0.11],[11.88,-0.1],[12.01,-0.14],[12.13,-0.01],[12.24,0.26],[12.34,0.03],[12.45,0.14],[12.6,0.03],[12.74,-0.11],[12.84,-0.31],[12.93,-0.02],[13.04,0.1],[13.15,-0.07],[13.26,-0.145],[13.42,-0.04],[13.53,0.03],[13.7,0.36],[13.84,0.03],[13.98,-0.1],[14.17,-0.29],[14.31,0.13],[14.45,0.0],[14.55,-0.17],[14.69,0.03],[14.78,-0.06],[14.9,-0.03],[14.97,-0.06],[15.08,0.03],[15.15,-0.05],[15.23,-0.04],[15.3,-0.12],[15.41,0.1],[15.55,-0.107],[15.69,0.01],[15.78,-0.04],[15.86,0.02],[15.97,-0.04],[16.05,-0.02],[16.13,-0.08],[16.24,0.05],[16.32,-0.03],[16.4,-0.05],[16.5,-0.114],[16.6,-0.01],[16.7,-0.02],[16.82,-0.05],[16.92,0.06],[17.03,-0.06],[17.15,-0.114],[17.27,-0.01],[17.39,0.07],[17.5,-0.01],[17.58,-0.06],[17.65,0.03],[17.8,-0.04],[17.9,0.02],[18.0,-0.03],[18.12,-0.04],[18.25,0.05],[18.37,-0.07],[18.47,-0.03],[18.56,-0.04],[18.71,-0.02],[18.9,0.14],[19.02,-0.04],[19.1,-0.07],[19.18,-0.02],[19.28,-0.05],[19.37,-0.01],[19.47,-0.05],[19.57,-0.04],[19.67,-0.01],[19.77,0.05],[19.85,-0.03],[19.93,-0.07],[20.0,-0.04],[20.09,0.06],[20.2,-0.02],[20.28,-0.01],[20.36,-0.05],[20.44,-0.04],[20.6,-0.107],[20.68,-0.05],[20.75,-0.03],[20.86,-0.01],[20.94,0.03],[21.02,-0.02],[21.1,0.08],[21.17,0.0],[21.25,0.02],[21.35,-0.03],[21.46,-0.01],[21.55,-0.06],[21.64,-0.09],[21.72,-0.03],[21.81,-0.04],[21.92,0.05],[22.0,-0.02],[22.08,-0.01],[22.16,-0.04],[22.24,-0.02],[22.34,-0.045],[22.44,0.005],[22.54,-0.03],[22.63,-0.01],[22.72,-0.04],[22.79,0.04],[22.87,-0.02],[22.94,-0.01],[23.02,-0.05],[23.1,-0.02],[23.22,-0.069],[23.3,-0.03],[23.41,-0.01],[23.5,-0.04],[23.57,0.04],[23.65,-0.02],[23.73,-0.01],[23.82,-0.04],[23.92,0.03],[24.0,-0.02],[24.12,-0.03],[24.2,-0.01],[24.29,0.0],[24.37,-0.04],[24.45,-0.02],[24.55,-0.045],[24.63,0.005],[24.72,-0.03],[24.85,-0.04],[24.98,-0.055],[25.08,-0.02],[25.16,0.02],[25.22,-0.01],[25.29,0.035],[25.36,-0.02],[25.44,0.0],[25.52,-0.04],[25.63,-0.02],[25.72,-0.045],[25.83,-0.015],[25.93,-0.04],[26.04,-0.035],[26.13,-0.01],[26.23,-0.03],[26.31,0.0],[26.39,-0.02],[26.47,-0.01],[26.57,-0.049],[26.66,-0.01],[26.78,0.035],[26.86,-0.02],[26.94,-0.01],[27.02,-0.04],[27.1,-0.03],[27.2,-0.01],[27.3,-0.03],[27.4,-0.02],[27.49,-0.045],[27.57,-0.01],[27.64,-0.049],[27.73,-0.005],[27.82,-0.03],[27.9,0.0],[27.98,-0.02],[28.06,-0.005],[28.14,-0.04],[28.24,-0.01],[28.34,-0.03],[28.44,0.0],[28.54,-0.03],[28.63,-0.01],[28.73,-0.025],[28.83,0.0],[28.93,0.02],[29.0,-0.03],[29.08,-0.01],[29.18,-0.04],[29.29,0.0],[29.38,-0.03],[29.48,-0.015],[29.58,-0.035],[29.67,-0.02],[29.77,-0.04],[29.87,-0.01],[29.96,-0.035],[30.06,-0.01],[30.15,-0.03],[30.25,0.0],[30.35,-0.02],[30.45,0.0],[30.6,0.03],[30.68,-0.02],[30.77,-0.005],[30.84,-0.03],[30.93,0.0],[31.0,-0.02],[31.1,-0.005],[31.2,-0.025],[31.26,0.03],[31.34,-0.02],[31.43,-0.01],[31.52,-0.035],[31.6,-0.01],[31.66,-0.03],[31.75,-0.005],[31.83,-0.035],[31.9,-0.01],[32.0,-0.03],[32.07,-0.01],[32.13,-0.035],[32.22,0.0],[32.3,-0.02],[32.37,-0.005],[32.45,-0.03],[32.52,0.01],[32.6,-0.02],[32.7,0.0],[32.78,-0.025],[32.84,0.005],[32.92,-0.02],[33.0,-0.01],[33.07,-0.03],[33.15,-0.02],[33.22,-0.035],[33.3,-0.01],[33.38,-0.03],[33.46,-0.005],[33.54,-0.025],[33.62,0.0],[33.7,-0.03],[33.78,-0.005],[33.86,-0.025],[33.94,-0.01],[34.01,-0.03],[34.08,-0.005],[34.16,-0.025],[34.24,-0.01],[34.32,-0.03],[34.4,-0.005],[34.48,-0.02],[34.56,0.01],[34.63,0.02],[34.7,-0.02],[34.78,-0.005],[34.86,-0.025],[34.93,-0.005],[35.0,-0.02],[35.08,0.0],[35.15,-0.025],[35.23,0.005],[35.31,-0.02],[35.39,-0.005],[35.47,-0.025],[35.55,0.0],[35.62,-0.02],[35.7,0.005],[35.78,-0.02],[35.86,0.0],[35.94,-0.025],[36.02,-0.005],[36.1,-0.02],[36.17,0.0],[36.25,-0.025],[36.33,-0.005],[36.41,-0.02],[36.49,0.005],[36.57,-0.02],[36.65,0.0],[36.72,-0.025],[36.8,-0.005],[36.88,-0.02],[36.96,0.005],[37.04,-0.02],[37.12,0.0],[37.2,-0.015],[37.28,0.005],[37.35,-0.02],[37.4,0.015],[37.43,-0.034],[37.46,-0.01]];

const accInterp: Pt[] = [[0,-0.002],[0.33,-0.002],[0.66,0.001],[0.94,0.001],[1.25,-0.015],[1.58,-0.028],[1.91,0.018],[2.24,-0.05],[2.55,-0.009],[2.87,-0.028],[3.2,0.066],[3.54,-0.047],[3.85,-0.069],[4.14,-0.233],[4.48,0.054],[4.81,0.176],[5.12,0.145],[5.44,0.179],[5.75,-0.177],[6.08,-0.173],[6.39,-0.199],[6.71,-0.083],[7.02,-0.192],[7.35,0.014],[7.66,-0.047],[7.99,-0.028],[8.31,-0.009],[8.63,0.1],[8.95,-0.002],[9.28,0.054],[9.58,-0.061],[9.91,0.051],[10.22,0.023],[10.53,-0.069],[10.88,0.04],[11.18,-0.028],[11.51,-0.059],[11.82,-0.073],[12.13,-0.001],[12.46,0.142],[12.8,-0.158],[13.13,0.025],[13.45,-0.025],[13.76,0.203],[14.09,-0.11],[14.4,0.105],[14.72,-0.013],[15.04,-0.021],[15.35,0.073],[15.62,-0.011],[15.93,-0.004],[16.24,0.025],[16.6,0.032],[16.92,0.068],[17.23,-0.011],[17.59,-0.016],[17.9,0.003],[18.22,0.051],[18.53,-0.025],[18.87,0.112],[19.15,-0.025],[19.47,-0.021],[19.81,-0.028],[20.13,0.049],[20.44,-0.028],[20.75,-0.021],[21.1,0.078],[21.41,0.012],[21.72,-0.028],[22.05,-0.008],[22.39,0.01],[22.71,0.021],[23.02,-0.025],[23.33,-0.009],[23.65,-0.004],[23.96,0.028],[24.3,-0.011],[24.62,0.025],[24.95,-0.036],[25.29,0.027],[25.6,-0.008],[25.92,0.013],[26.23,-0.004],[26.57,-0.025],[26.89,0.021],[27.2,-0.002],[27.51,0.01],[27.82,0.016],[28.14,-0.004],[28.5,0.01],[28.81,-0.016],[29.12,0.013],[29.44,-0.006],[29.75,0.008],[30.06,-0.006],[30.38,-0.008],[30.69,-0.008],[31.0,-0.009],[31.31,0.006],[31.63,-0.021],[31.94,0.018],[32.25,0.01],[32.57,-0.009],[32.88,-0.006],[33.24,0.01],[33.58,0.016],[33.9,-0.009],[34.24,-0.013],[34.55,-0.013],[34.91,0.006],[35.23,-0.002],[35.54,0.013],[35.85,0.005],[36.17,-0.008],[36.48,-0.002],[36.84,-0.006],[37.15,-0.002]];

// ---- layout ----
const W = 3398;
const H = 4362;
const LEFT = 510;
const RIGHT = 3365;
const PANEL_H = 1250;
const FONT = '"DejaVu Sans", "Liberation Sans", sans-serif';
const FS = 92;
const RED = '#ff0000';
const GREEN = '#32cd32';
const GRID = '#c8c8c8';

const x = d3.scaleLinear().domain([-1.875, 39.375]).range([LEFT, RIGHT]);

interface PanelProps {
  id: string;
  top: number;
  domain: [number, number];
  ticks: number[];
  fmt: (v: number) => string;
  label: string[];
  labelX: number;
  real: Pt[];
  srgan: Pt[];
  interp: Pt[];
  legendAt: 'upper' | 'lower';
  showX: boolean;
}

function Panel(p: PanelProps) {
  const bottom = p.top + PANEL_H;
  const y = d3.scaleLinear().domain(p.domain).range([bottom, p.top]);
  const line = d3.line<Pt>().x(d => x(d[0])).y(d => y(d[1]));
  const cy = (p.top + bottom) / 2;

  const legW = 1246;
  const legH = 434;
  const legX = RIGHT - 45 - legW;
  const legY = p.legendAt === 'upper' ? p.top + 50 : bottom - 47 - legH;
  const rows = [
    { label: legendLabels[0], color: RED, dash: undefined as string | undefined },
    { label: legendLabels[1], color: '#000000', dash: '31 13' },
    { label: legendLabels[2], color: GREEN, dash: undefined as string | undefined },
  ];

  return (
    <g>
      <defs>
        <clipPath id={`clip-${p.id}`}>
          <rect x={LEFT} y={p.top} width={RIGHT - LEFT} height={PANEL_H} />
        </clipPath>
      </defs>
      {/* grid */}
      <g stroke={GRID} strokeWidth={3.3} strokeDasharray="12.3 5.3">
        {timeTicks.map(t => (
          <line key={`gx${t}`} x1={x(t)} x2={x(t)} y1={p.top} y2={bottom} />
        ))}
        {p.ticks.map(v => (
          <line key={`gy${v}`} x1={LEFT} x2={RIGHT} y1={y(v)} y2={y(v)} />
        ))}
      </g>
      {/* series */}
      <g clipPath={`url(#clip-${p.id})`} fill="none" strokeLinejoin="round">
        <path d={line(p.srgan) || ''} stroke={RED} strokeWidth={8} />
        <path d={line(p.real) || ''} stroke="#000000" strokeWidth={8} strokeDasharray="31 13" />
        <path d={line(p.interp) || ''} stroke={GREEN} strokeWidth={7.5} />
      </g>
      {/* legend */}
      <g>
        <rect x={legX} y={legY} width={legW} height={legH} rx={16} ry={16}
          fill="#ffffff" fillOpacity={0.8} stroke="#d2d2d2" strokeWidth={4} />
        {rows.map((r, i) => {
          const ry = legY + 75 + i * 135;
          return (
            <g key={r.label}>
              <line x1={legX + 32} x2={legX + 222} y1={ry} y2={ry} stroke={r.color}
                strokeWidth={8} strokeDasharray={r.dash} />
              <text x={legX + 295} y={ry + 33} fontFamily={FONT} fontWeight="bold" fontSize={FS}>
                {r.label}
              </text>
            </g>
          );
        })}
      </g>
      {/* spines */}
      <rect x={LEFT} y={p.top} width={RIGHT - LEFT} height={PANEL_H} fill="none"
        stroke="#000000" strokeWidth={6.5} />
      {/* y ticks */}
      {p.ticks.map(v => (
        <g key={`ty${v}`}>
          <line x1={LEFT - 15} x2={LEFT} y1={y(v)} y2={y(v)} stroke="#000" strokeWidth={3.3} />
          <text x={477} y={y(v) + 34} textAnchor="end" fontFamily={FONT} fontWeight="bold" fontSize={FS}>
            {p.fmt(v)}
          </text>
        </g>
      ))}
      {/* x ticks */}
      {timeTicks.map(t => (
        <g key={`tx${t}`}>
          <line x1={x(t)} x2={x(t)} y1={bottom} y2={bottom + 15} stroke="#000" strokeWidth={3.3} />
          {p.showX && (
            <text x={x(t)} y={bottom + 103} textAnchor="middle" fontFamily={FONT} fontWeight="bold" fontSize={FS}>
              {t}
            </text>
          )}
        </g>
      ))}
      {/* y label */}
      {p.label.map((s, i) => (
        <text key={s} transform={`translate(${p.labelX + i * 101},${cy}) rotate(-90)`}
          textAnchor="middle" fontFamily={FONT} fontWeight="bold" fontSize={FS}>
          {s}
        </text>
      ))}
    </g>
  );
}

const fmt1 = d3.format('.1f');
const fmt0 = d3.format('d');

// the whole figure is scaled into the visible viewport so that nothing is cut off
export default function App() {
  return (
    <div style={{ width: '100vw', height: '100vh', margin: 0, padding: 0, overflow: 'hidden' }}>
      <style>{'html,body{margin:0;padding:0;overflow:hidden;background:#ffffff;}'}</style>
      <svg width="100%" height="100%" viewBox={`0 0 ${W} ${H}`} preserveAspectRatio="none"
        style={{ display: 'block' }}>
        <rect x={0} y={0} width={W} height={H} fill="#ffffff" />
        <Panel id="disp" top={29} domain={[-7.68, 6.2]} ticks={dispTicks} fmt={fmt1}
          label={['Ground-Motion', 'Displacement [cm]']} labelX={105}
          real={dispReal} srgan={dispSrgan} interp={dispInterp} legendAt="lower" showX={false} />
        <Panel id="vel" top={1441} domain={[-41.6, 35.85]} ticks={velTicks} fmt={fmt0}
          label={['Ground-Motion', 'Velocity [cm/s]']} labelX={140}
          real={velReal} srgan={velSrgan} interp={velInterp} legendAt="lower" showX={false} />
        <Panel id="acc" top={2853} domain={[-0.556, 0.509]} ticks={accTicks} fmt={fmt1}
          label={['Ground-Motion', 'Acceleration [g]']} labelX={105}
          real={accReal} srgan={accSrgan} interp={accInterp} legendAt="upper" showX={true} />
        <text x={(LEFT + RIGHT) / 2} y={4313} textAnchor="middle" fontFamily={FONT}
          fontWeight="bold" fontSize={FS}>Time (s)</text>
      </svg>
    </div>
  );
}
